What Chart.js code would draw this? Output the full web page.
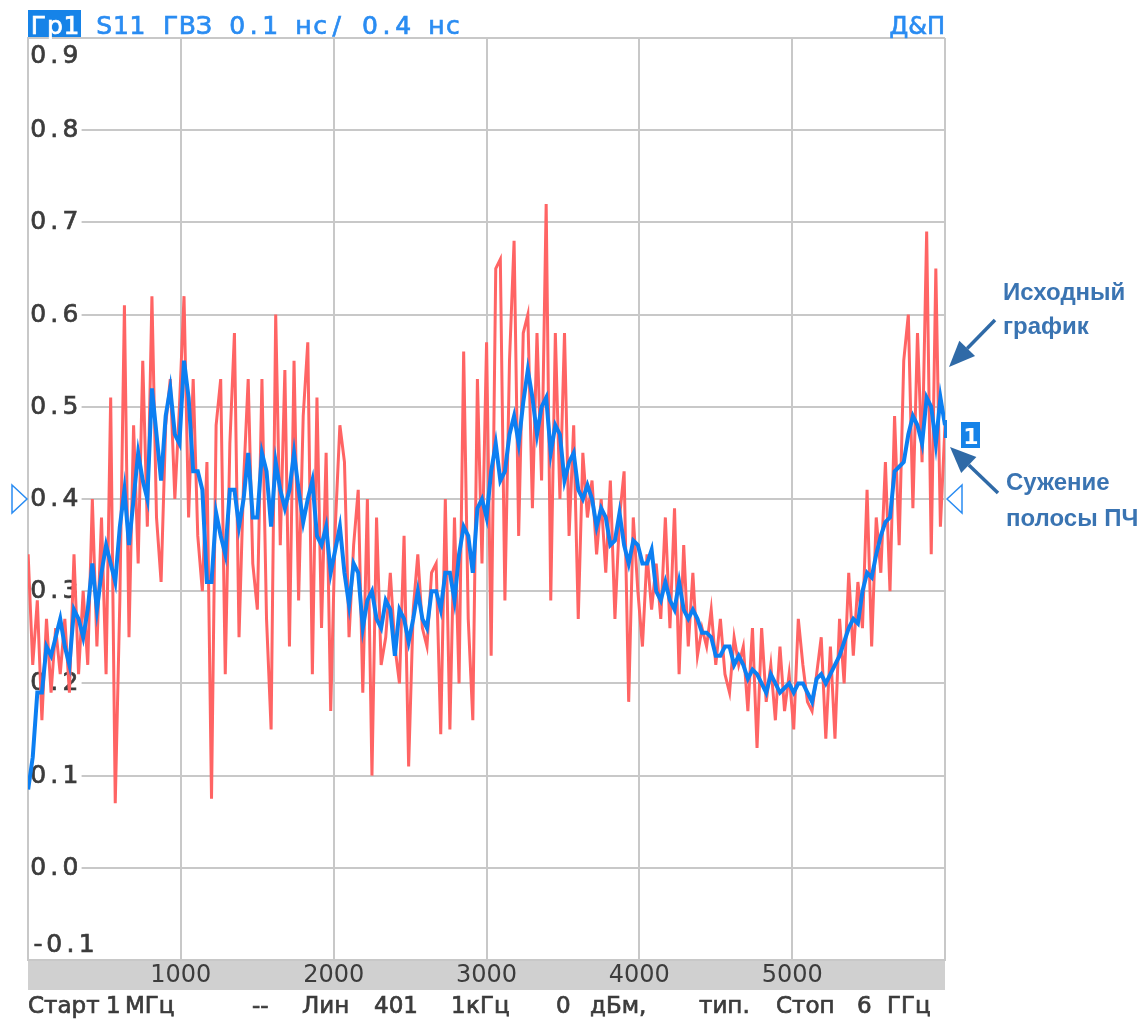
<!DOCTYPE html>
<html>
<head>
<meta charset="utf-8">
<script src="https://cdn.jsdelivr.net/npm/chart.js@4.4.1/dist/chart.umd.min.js"></script>
<style>
  html, body { margin: 0; padding: 0; background: #fff; }
  #wrap { position: relative; width: 1148px; height: 1026px; }
</style>
</head>
<body>
<div id="wrap"><canvas id="vna" width="1148" height="1026"></canvas></div>
<script>
/* ---------------- SWEEP ---------------- */
// linear sweep 1 MHz .. 6 GHz, 201 points
const sweepStartMHz = 1;
const sweepStopMHz = 6000;
const sweepPoints = 201;

const xTicks = [1000, 2000, 3000, 4000, 5000];
const yTicks = [-0.1, 0.0, 0.1, 0.2, 0.3, 0.4, 0.5, 0.6, 0.7, 0.8, 0.9];

/* ---------------- TRACES ---------------- */
// raw group delay trace ("Исходный график")
const rawTrace = [
  0.34, 0.22, 0.29, 0.16, 0.27, 0.19, 0.26, 0.21, 0.27, 0.19,
  0.34, 0.21, 0.30, 0.22, 0.40, 0.24, 0.38, 0.21, 0.51, 0.07,
  0.29, 0.61, 0.25, 0.48, 0.33, 0.55, 0.37, 0.62, 0.38, 0.31,
  0.48, 0.53, 0.40, 0.50, 0.62, 0.38, 0.53, 0.36, 0.30, 0.44,
  0.075, 0.48, 0.53, 0.21, 0.46, 0.58, 0.25, 0.42, 0.53, 0.33,
  0.28, 0.53, 0.27, 0.15, 0.60, 0.35, 0.54, 0.24, 0.55, 0.29,
  0.49, 0.57, 0.21, 0.51, 0.26, 0.45, 0.17, 0.37, 0.48, 0.44,
  0.25, 0.35, 0.41, 0.19, 0.40, 0.10, 0.38, 0.22, 0.25, 0.32,
  0.24, 0.20, 0.36, 0.11, 0.28, 0.34, 0.26, 0.24, 0.32, 0.33,
  0.145, 0.40, 0.15, 0.38, 0.20, 0.56, 0.27, 0.16, 0.53, 0.33,
  0.57, 0.23, 0.65, 0.66, 0.29, 0.55, 0.68, 0.36, 0.58, 0.60,
  0.39, 0.58, 0.42, 0.72, 0.29, 0.58, 0.40, 0.58, 0.36, 0.48,
  0.27, 0.45, 0.38, 0.42, 0.34, 0.40, 0.32, 0.42, 0.27, 0.38,
  0.43, 0.18, 0.38, 0.30, 0.24, 0.34, 0.28, 0.33, 0.27, 0.38,
  0.26, 0.39, 0.21, 0.35, 0.24, 0.32, 0.23, 0.26, 0.24, 0.28,
  0.22, 0.27, 0.21, 0.19, 0.25, 0.22, 0.24, 0.17, 0.26, 0.13,
  0.26, 0.18, 0.22, 0.16, 0.24, 0.17, 0.21, 0.15, 0.27, 0.22,
  0.18, 0.17, 0.21, 0.25, 0.14, 0.24, 0.14, 0.27, 0.20, 0.32,
  0.23, 0.31, 0.26, 0.41, 0.24, 0.38, 0.32, 0.44, 0.30, 0.49,
  0.35, 0.55, 0.60, 0.39, 0.58, 0.44, 0.69, 0.34, 0.65, 0.37,
  0.48
];

// same trace with narrowed IF bandwidth ("Сужение полосы ПЧ")
const narrowTrace = [
  0.085, 0.12, 0.19, 0.19, 0.24, 0.23, 0.25, 0.27, 0.24, 0.22,
  0.28, 0.27, 0.25, 0.28, 0.33, 0.28, 0.32, 0.35, 0.33, 0.31,
  0.37, 0.41, 0.35, 0.40, 0.45, 0.42, 0.40, 0.52, 0.47, 0.42,
  0.49, 0.52, 0.47, 0.46, 0.55, 0.51, 0.43, 0.43, 0.41, 0.31,
  0.31, 0.385, 0.36, 0.34, 0.41, 0.41, 0.37, 0.40, 0.45, 0.38,
  0.38, 0.45, 0.43, 0.37, 0.44, 0.41, 0.39, 0.41, 0.45, 0.41,
  0.375, 0.40, 0.42, 0.36, 0.35, 0.37, 0.32, 0.345, 0.37, 0.32,
  0.285, 0.33, 0.32, 0.26, 0.29, 0.30, 0.27, 0.26, 0.29, 0.28,
  0.23, 0.28, 0.27, 0.245, 0.27, 0.30, 0.27, 0.26, 0.30, 0.30,
  0.28, 0.32, 0.32, 0.29, 0.34, 0.37, 0.36, 0.32, 0.39, 0.40,
  0.38, 0.43, 0.46, 0.42, 0.43, 0.47, 0.49, 0.46, 0.505, 0.54,
  0.51, 0.47, 0.50, 0.51, 0.45, 0.48, 0.47, 0.42, 0.44, 0.45,
  0.41, 0.40, 0.415, 0.40, 0.37, 0.39, 0.38, 0.35, 0.355, 0.385,
  0.35, 0.33, 0.355, 0.35, 0.33, 0.33, 0.345, 0.30, 0.29, 0.31,
  0.29, 0.28, 0.31, 0.28, 0.27, 0.28, 0.27, 0.255, 0.255, 0.25,
  0.23, 0.23, 0.24, 0.24, 0.22, 0.23, 0.22, 0.205, 0.215, 0.21,
  0.20, 0.19, 0.21, 0.20, 0.19, 0.195, 0.20, 0.19, 0.20, 0.20,
  0.19, 0.18, 0.205, 0.21, 0.20, 0.21, 0.22, 0.23, 0.245, 0.26,
  0.27, 0.265, 0.30, 0.32, 0.315, 0.34, 0.36, 0.375, 0.38, 0.43,
  0.435, 0.44, 0.47, 0.49, 0.48, 0.46, 0.51, 0.50, 0.46, 0.51,
  0.48
];

const freqs = rawTrace.map((_, i) =>
  sweepStartMHz + i * (sweepStopMHz - sweepStartMHz) / (sweepPoints - 1));

/* ---------------- SCREEN DECORATION ---------------- */

const labelGray = '#3c3c3c';
const uiBlue = '#2a8cf2';
const noteBlue = '#3a74b2';
const arrowBlue = '#2f6aa7';
const uiFont = '"DejaVu Sans"';

// text with a hairline stroke, heavier like the instrument screen
function heavyText(ctx, t, x, y) {
  ctx.lineWidth = 0.7;
  ctx.strokeStyle = ctx.fillStyle;
  ctx.fillText(t, x, y);
  ctx.strokeText(t, x, y);
}

function monoText(ctx, str, x0, baseline, cell, color) {
  ctx.fillStyle = color;
  ctx.textAlign = 'center';
  ctx.textBaseline = 'alphabetic';
  for (let i = 0; i < str.length; i++) {
    heavyText(ctx, str[i], x0 + cell * (i + 0.5), baseline);
  }
}

function arrow(ctx, x1, y1, x2, y2) {
  const a = Math.atan2(y2 - y1, x2 - x1);
  const len = 26, half = 11;
  const bx = x2 - len * Math.cos(a), by = y2 - len * Math.sin(a);
  ctx.strokeStyle = arrowBlue;
  ctx.fillStyle = arrowBlue;
  ctx.lineWidth = 3.5;
  ctx.beginPath();
  ctx.moveTo(x1, y1);
  ctx.lineTo(bx, by);
  ctx.stroke();
  ctx.beginPath();
  ctx.moveTo(x2, y2);
  ctx.lineTo(bx + half * Math.sin(a), by - half * Math.cos(a));
  ctx.lineTo(bx - half * Math.sin(a), by + half * Math.cos(a));
  ctx.closePath();
  ctx.fill();
}

const screenPlugin = {
  id: 'screen',
  beforeDraw(chart) {
    const { ctx, chartArea: ca } = chart;
    ctx.save();
    ctx.fillStyle = '#d0d0d0';
    ctx.fillRect(ca.left, ca.bottom, ca.right - ca.left, 30);
    ctx.restore();
  },
  beforeDatasetsDraw(chart) {
    // value labels sit inside the grid, on a white patch
    const { ctx, chartArea: ca } = chart;
    const ys = chart.scales.y;
    ctx.save();
    ctx.font = '25px ' + uiFont;
    yTicks.forEach(v => {
      const txt = v.toFixed(1);
      const gy = ys.getPixelForValue(v);
      const base = Math.min(Math.max(gy + 7, ca.top + 25), ca.bottom - 8);
      ctx.fillStyle = '#fff';
      ctx.fillRect(ca.left + 1, base - 20, txt.length * 16.2 + 4, 24);
      monoText(ctx, txt, ca.left + 2, base, 16.2, labelGray);
    });
    ctx.restore();
  },
  afterDraw(chart) {
    const { ctx, chartArea: ca } = chart;
    const ys = chart.scales.y;
    ctx.save();

    // header
    ctx.font = '25px ' + uiFont;
    ctx.fillStyle = '#1683e8';
    ctx.fillRect(28, 10, 53, 27);
    monoText(ctx, 'Гр1', 30, 34, 16.6, '#fff');
    monoText(ctx, 'S11 ГВЗ 0.1 нс/ 0.4 нс', 96, 34, 16.6, uiBlue);
    ctx.font = '24px ' + uiFont;
    ctx.textAlign = 'right';
    ctx.fillStyle = uiBlue;
    heavyText(ctx, 'Д&П', ca.right, 34);

    // footer
    ctx.font = '23px ' + uiFont;
    ctx.textAlign = 'left';
    ctx.fillStyle = labelGray;
    [['Старт', 28], ['1', 106], ['МГц', 125], ['--', 252], ['Лин', 302],
     ['401', 374], ['1', 451], ['кГц', 466], ['0', 556], ['дБм,', 590],
     ['тип.', 699], ['Стоп', 776], ['6', 857], ['ГГц', 887]]
      .forEach(([t, x]) => heavyText(ctx, t, x, 1013));

    // reference level markers at 0.4
    const ry = ys.getPixelForValue(0.4);
    ctx.strokeStyle = uiBlue;
    ctx.lineWidth = 1.5;
    ctx.beginPath();
    ctx.moveTo(12, ry - 14); ctx.lineTo(27, ry); ctx.lineTo(12, ry + 14); ctx.closePath();
    ctx.stroke();
    ctx.beginPath();
    ctx.moveTo(962, ry - 14); ctx.lineTo(947, ry); ctx.lineTo(962, ry + 14); ctx.closePath();
    ctx.stroke();

    // trace marker
    ctx.fillStyle = '#1683e8';
    ctx.fillRect(961, 422, 19, 26);
    ctx.fillRect(944, 420, 3, 18);
    ctx.fillStyle = '#fff';
    ctx.font = 'bold 22px ' + uiFont;
    ctx.textAlign = 'center';
    ctx.fillText('1', 971, 444);

    // notes
    ctx.font = 'bold 24px "Liberation Sans"';
    ctx.textAlign = 'left';
    ctx.fillStyle = noteBlue;
    ctx.fillText('Исходный', 1003, 300);
    ctx.fillText('график', 1003, 334);
    ctx.fillText('Сужение', 1006, 490);
    ctx.fillText('полосы ПЧ', 1006, 526);
    arrow(ctx, 995, 320, 949, 367);
    arrow(ctx, 998, 493, 950, 447);

    ctx.restore();
  }
};

/* ---------------- CHART ---------------- */

const gridColor = '#c8c8c8';

new Chart(document.getElementById('vna').getContext('2d'), {
  type: 'line',
  data: {
    labels: freqs,
    datasets: [
      {
        label: 'Сужение полосы ПЧ',
        data: narrowTrace,
        borderColor: '#0c7ff2',
        borderWidth: 4,
        pointRadius: 0,
        tension: 0
      },
      {
        label: 'Исходный график',
        data: rawTrace,
        borderColor: '#ff6464',
        borderWidth: 3,
        pointRadius: 0,
        tension: 0
      }
    ]
  },
  options: {
    responsive: false,
    animation: false,
    events: [],
    layout: { padding: { left: 28, right: 203, top: 38, bottom: 36 } },
    plugins: {
      legend: { display: false },
      tooltip: { enabled: false }
    },
    scales: {
      x: {
        type: 'linear',
        min: 0,
        max: 6000,
        afterFit: s => { s.height = 30; },
        afterBuildTicks: s => {
          s.ticks = [0, ...xTicks, 6000].map(v => ({ value: v }));
        },
        ticks: {
          callback: v => (xTicks.includes(v) ? String(v) : ''),
          color: labelGray,
          font: { family: 'DejaVu Sans', size: 24 },
          padding: 1,
          maxRotation: 0,
          autoSkip: false
        },
        grid: { color: gridColor, lineWidth: 2, drawTicks: false },
        border: { color: gridColor, width: 2 }
      },
      y: {
        min: -0.1,
        max: 0.9,
        afterFit: s => { s.width = 0; },
        afterBuildTicks: s => {
          s.ticks = yTicks.map(v => ({ value: v }));
        },
        ticks: { display: false },
        grid: { color: gridColor, lineWidth: 2, drawTicks: false },
        border: { color: gridColor, width: 2 }
      }
    }
  },
  plugins: [screenPlugin]
});
</script>
</body>
</html>
